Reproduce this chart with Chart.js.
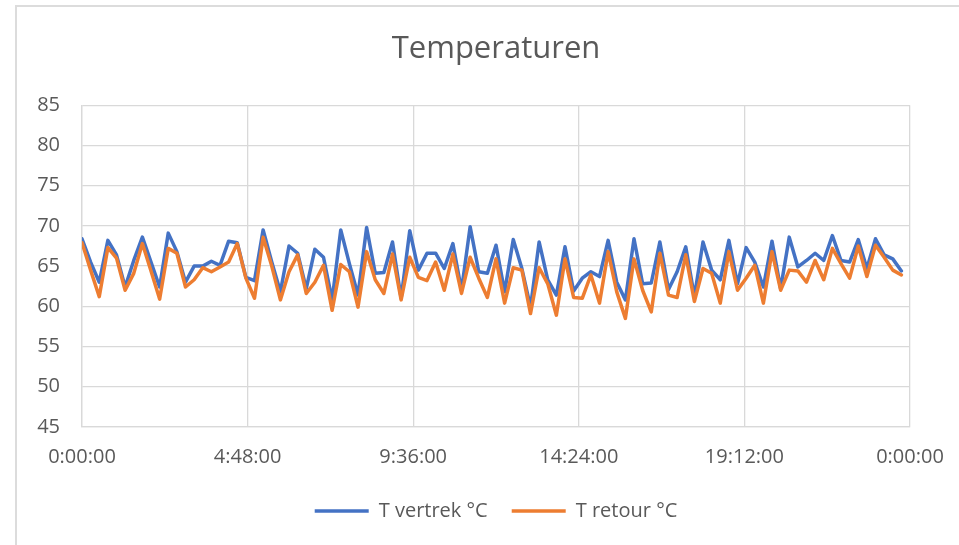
<!DOCTYPE html>
<html>
<head>
<meta charset="utf-8">
<script src="https://cdn.jsdelivr.net/npm/chart.js@4"></script>
<style>
    html, body { margin: 0; padding: 0; background: #fff; overflow: hidden; width: 959px; height: 545px; }
    #frame { position: absolute; left: 15px; top: 5px; width: 1000px; height: 600px; border-left: 2px solid #dcdcdc; border-top: 2px solid #dcdcdc; }
    #wrap { position: absolute; left: 16px; top: 0; width: 960px; height: 545px; }
</style>
</head>
<body>
<div id="frame"></div>
<div id="wrap"><canvas id="tempChart"></canvas></div>
<script>
// Meetwaarden per kwartier, 0:00 t/m 23:45
const intervalMinutes = 15;

const tVertrek = [
    68.4, 65.5, 63.0, 68.2, 66.4, 62.4, 65.7, 68.6, 65.5, 62.4,
    69.1, 66.8, 63.0, 65.0, 65.0, 65.6, 65.1, 68.1, 67.9, 63.6,
    63.2, 69.5, 65.5, 61.8, 67.5, 66.6, 62.2, 67.1, 66.1, 60.8,
    69.5, 65.3, 61.4, 69.8, 64.1, 64.2, 68.0, 61.0, 69.4, 64.5,
    66.6, 66.6, 64.7, 67.8, 62.0, 69.9, 64.3, 64.1, 67.6, 61.8,
    68.3, 64.7, 59.9, 68.0, 63.3, 61.4, 67.4, 61.9, 63.5, 64.3,
    63.7, 68.2, 63.0, 60.8, 68.4, 62.8, 62.9, 68.0, 62.1, 64.3,
    67.4, 61.2, 68.0, 64.5, 63.3, 68.2, 62.8, 67.3, 65.5, 62.4,
    68.1, 62.2, 68.6, 64.9, 65.7, 66.6, 65.7, 68.8, 65.7, 65.5,
    68.3, 64.7, 68.4, 66.4, 65.9, 64.4
];

const tRetour = [
    67.9, 64.5, 61.2, 67.3, 66.0, 62.0, 64.1, 67.8, 64.4, 60.9,
    67.2, 66.6, 62.4, 63.3, 64.8, 64.3, 64.9, 65.5, 67.8, 63.5,
    61.0, 68.6, 65.0, 60.8, 64.3, 66.4, 61.6, 63.0, 65.1, 59.5,
    65.2, 64.3, 59.9, 66.8, 63.3, 61.6, 66.5, 60.8, 66.1, 63.6,
    63.2, 65.5, 62.0, 66.5, 61.6, 66.1, 63.5, 61.1, 65.9, 60.4,
    64.8, 64.5, 59.1, 64.8, 62.8, 58.9, 65.9, 61.1, 61.0, 63.9,
    60.4, 66.8, 61.8, 58.5, 65.9, 62.0, 59.3, 66.6, 61.4, 61.1,
    66.4, 60.6, 64.7, 64.1, 60.4, 66.8, 62.0, 63.5, 65.1, 60.4,
    66.8, 62.0, 64.5, 64.4, 63.0, 65.7, 63.3, 67.2, 65.3, 63.5,
    67.5, 63.7, 67.6, 66.1, 64.5, 63.9
];

// Tijdstippen in minuten vanaf middernacht
const minutes = tVertrek.map((_, i) => i * intervalMinutes);

// As-instellingen
const xMin = 0;
const xMax = 1440;
const xStep = 288; // 4:48:00
const yMin = 45;
const yMax = 85;
const yStep = 5;

const textColor = '#595959';
const gridColor = '#d9d9d9';
const fontFamily = '"Open Sans", "Liberation Sans", sans-serif';

function formatTime(min) {
    const m = Math.round(min) % 1440;
    const h = Math.floor(m / 60);
    const mm = String(m % 60).padStart(2, '0');
    return `${h}:${mm}:00`;
}

const toPoints = (values) => values.map((v, i) => ({ x: minutes[i], y: v }));

new Chart(document.getElementById('tempChart'), {
    type: 'line',
    data: {
        datasets: [
            {
                label: 'T vertrek °C',
                data: toPoints(tVertrek),
                borderColor: '#4472C4',
                backgroundColor: '#4472C4',
                borderWidth: 3.5,
                pointRadius: 0,
                tension: 0,
                borderJoinStyle: 'round',
                borderCapStyle: 'round',
                order: 1
            },
            {
                label: 'T retour °C',
                data: toPoints(tRetour),
                borderColor: '#ED7D31',
                backgroundColor: '#ED7D31',
                borderWidth: 3.5,
                pointRadius: 0,
                tension: 0,
                borderJoinStyle: 'round',
                borderCapStyle: 'round',
                order: 0
            }
        ]
    },
    options: {
        responsive: true,
        maintainAspectRatio: false,
        animation: false,
        layout: {
            padding: { top: 0, left: 0, right: 0, bottom: 14 }
        },
        plugins: {
            title: {
                display: true,
                text: 'Temperaturen',
                color: textColor,
                font: { family: fontFamily, size: 31, weight: 'normal' },
                padding: { top: 31, bottom: 37 }
            },
            legend: {
                display: true,
                position: 'bottom',
                labels: {
                    color: textColor,
                    font: { family: fontFamily, size: 20 },
                    usePointStyle: true,
                    pointStyle: 'line',
                    pointStyleWidth: 54,
                    padding: 24,
                    sort: (a, b) => a.datasetIndex - b.datasetIndex
                }
            },
            tooltip: { enabled: false }
        },
        scales: {
            x: {
                type: 'linear',
                min: xMin,
                max: xMax,
                grid: { color: gridColor, lineWidth: 1.3, drawTicks: false },
                border: { color: gridColor, width: 1.3 },
                ticks: {
                    stepSize: xStep,
                    color: textColor,
                    font: { family: fontFamily, size: 20 },
                    padding: 18,
                    maxRotation: 0,
                    callback: (value) => formatTime(value)
                },
                afterFit: (scale) => { scale.height = 50; }
            },
            y: {
                min: yMin,
                max: yMax,
                grid: { color: gridColor, lineWidth: 1.3, drawTicks: false },
                border: { color: gridColor, width: 1.3 },
                ticks: {
                    stepSize: yStep,
                    color: textColor,
                    font: { family: fontFamily, size: 20 },
                    padding: 22
                },
                afterFit: (scale) => { scale.width = 66; }
            },
            yRight: {
                position: 'right',
                grid: { display: false },
                border: { display: false },
                ticks: { display: false },
                afterFit: (scale) => { scale.width = 66; }
            }
        }
    }
});
</script>
</body>
</html>
